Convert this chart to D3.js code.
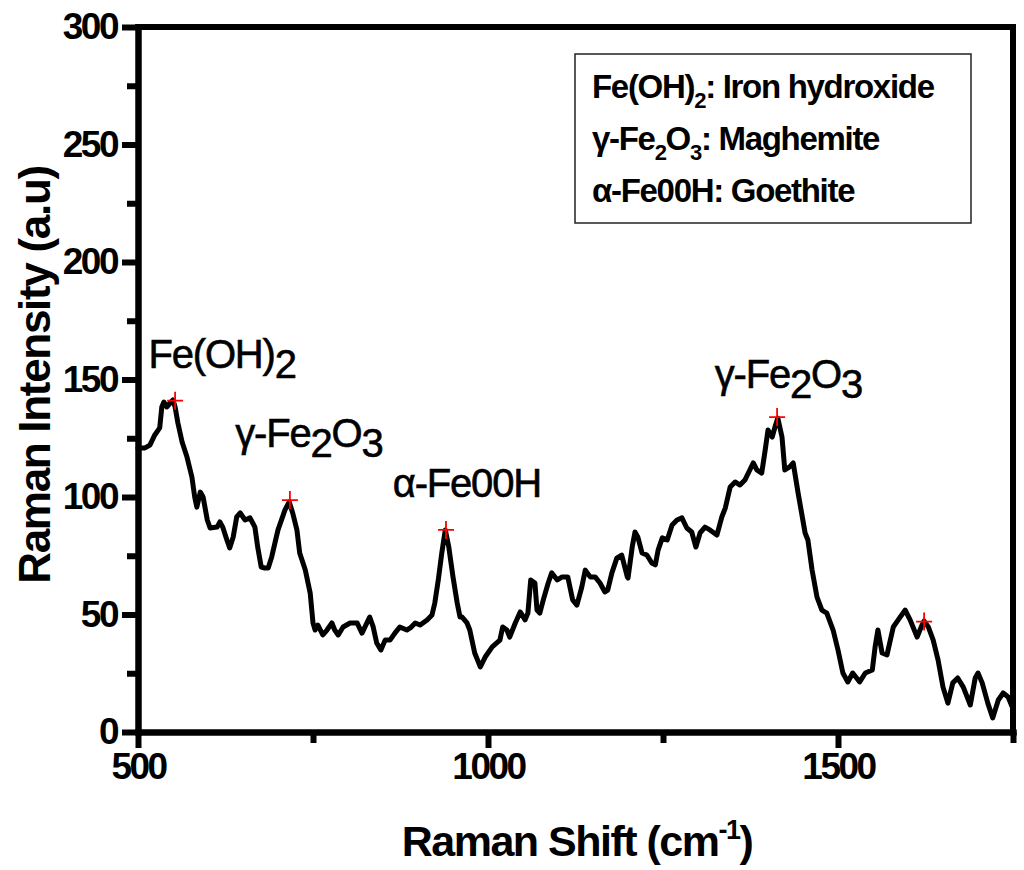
<!DOCTYPE html>
<html>
  <head>
    <meta charset="utf-8">
    <script src="https://d3js.org/d3.v7.min.js"></script>
    <title>Raman Spectrum</title>
    <style>
      body { margin: 0; background: #fff; }
      text { font-family: "Liberation Sans", Arial, sans-serif; fill: #000; }
    </style>
  </head>
  <body>
    <svg width="1024" height="870"></svg>
    <script>
      // Raman shift (cm-1) and intensity
      const shift = [500,510,517,524,531,534,537,541,546,550,553,557,563,570,577,581,584,589,593,599,
        603,613,617,621,627,631,636,641,646,653,660,667,671,676,681,686,691,700,710,716,
        721,727,731,739,746,750,753,757,764,770,777,781,786,793,803,813,820,827,831,836,
        841,847,853,860,867,874,884,889,896,903,913,920,924,929,934,939,944,950,956,960,
        963,970,974,981,989,996,1006,1017,1021,1027,1031,1039,1046,1053,1057,1061,1067,1070,1074,1079,
        1086,1091,1099,1106,1114,1121,1127,1134,1139,1146,1153,1160,1167,1171,1177,1184,1191,1199,1200,1206,
        1210,1214,1220,1227,1234,1239,1243,1249,1256,1263,1270,1277,1284,1291,1297,1303,1310,1317,1327,1334,
        1339,1346,1353,1360,1367,1374,1379,1384,1391,1396,1400,1406,1410,1414,1420,1424,1431,1436,1443,1449,
        1453,1457,1463,1470,1477,1484,1493,1500,1507,1514,1521,1531,1539,1549,1553,1557,1563,1570,1579,1586,
        1596,1603,1613,1620,1623,1629,1636,1643,1650,1657,1664,1671,1679,1689,1696,1700,1706,1714,1721,1729,
        1736,1743,1749];
      const intensity = [120.9,120.9,122.1,126.4,129.4,138.3,140.4,138.3,140.0,141.3,138.3,131.5,123.4,117.0,108.5,100.0,95.7,102.1,100.0,90.2,
        86.8,87.2,89.4,87.2,81.7,78.3,83.0,91.5,93.2,90.2,91.1,87.2,78.7,70.2,69.8,69.8,74.5,86.0,94.5,97.9,
        93.2,86.0,76.2,68.9,59.1,46.4,43.4,45.5,41.3,43.4,46.4,43.4,41.3,44.7,46.4,46.4,42.1,46.4,48.9,44.7,
        37.9,34.9,39.1,39.1,42.1,44.7,43.4,44.3,46.4,45.5,47.7,49.8,54.9,64.7,76.2,86.0,78.7,66.0,54.9,48.9,
        48.9,46.4,43.4,33.6,27.7,31.9,36.2,39.1,44.7,43.4,40.4,46.4,51.1,47.7,50.6,64.7,63.4,51.9,50.6,56.2,
        63.4,67.7,64.7,66.0,66.0,56.2,54.0,61.7,68.9,66.0,66.0,63.4,59.6,60.4,67.7,74.0,75.3,66.0,65.5,78.7,
        85.1,83.0,76.2,75.3,71.9,71.1,77.4,82.6,81.7,88.1,90.2,91.1,86.8,85.1,78.7,84.7,87.2,86.0,83.8,91.5,
        95.3,104.3,106.4,105.1,107.2,111.5,114.5,111.5,110.2,120.0,128.5,125.5,129.8,133.6,125.5,111.5,112.8,114.5,101.7,91.5,
        84.7,81.7,68.9,57.4,51.9,50.6,43.4,34.9,25.1,21.3,25.1,21.3,25.1,26.4,36.2,43.4,33.6,32.8,44.7,47.7,
        51.9,47.7,40.4,45.5,47.2,44.7,39.1,30.6,19.1,12.3,20.9,23.0,19.1,11.5,23.0,25.1,20.9,12.3,6.0,13.6,
        16.6,14.9,10.6];

      // Peak markers (red crosses)
      const peakShift = [553, 717, 940, 1413, 1623];
      const peakIntensity = [141, 98.7, 86, 134, 47];

      // Axis ticks
      const xMajor = [500, 1000, 1500];
      const xMinor = [750, 1250, 1750];
      const yMajor = [0, 50, 100, 150, 200, 250, 300];
      const yMinor = [25, 75, 125, 175, 225, 275];

      // Peak annotation labels: text parts (1 = subscript), position in data units
      const annotations = [
        { x: 515, y: 155, parts: [["Fe(OH)", 0], ["2", 1]] },
        { x: 639, y: 121.3, parts: [["\u03b3-Fe", 0], ["2", 1], ["O", 0], ["3", 1]] },
        { x: 864, y: 100, parts: [["\u03b1-Fe00H", 0]] },
        { x: 1324, y: 146.4, parts: [["\u03b3-Fe", 0], ["2", 1], ["O", 0], ["3", 1]] }
      ];

      // Legend lines
      const legendLines = [
        [["Fe(OH)", 0], ["2", 1], [": Iron hydroxide", 0]],
        [["\u03b3-Fe", 0], ["2", 1], ["O", 0], ["3", 1], [": Maghemite", 0]],
        [["\u03b1-Fe00H: Goethite", 0]]
      ];

      const data = shift.map((s, i) => ({ s: s, v: intensity[i] }));

      const svg = d3.select('svg');
      const margin = { left: 138, right: 1013, top: 27, bottom: 732 };

      const xScale = d3.scaleLinear().domain([500, 1750]).range([margin.left, margin.right]);
      const yScale = d3.scaleLinear().domain([0, 300]).range([margin.bottom, margin.top]);

      // writes parts into a text element, subscripts shifted down by `drop`
      function richText(t, parts, drop, subSize) {
        let low = false;
        parts.forEach(p => {
          const sub = p[1] === 1;
          const span = t.append('tspan').text(p[0]);
          if (sub && !low) span.attr('dy', drop);
          if (!sub && low) span.attr('dy', -drop);
          if (sub && subSize) span.attr('font-size', subSize);
          low = sub;
        });
      }

      // Frame top and right
      svg.append('path')
        .attr('d', `M${margin.left},${margin.top}H${margin.right}V${margin.bottom}`)
        .attr('fill', 'none')
        .attr('stroke', '#000')
        .attr('stroke-width', 6)
        .attr('stroke-linecap', 'square');

      // Minor ticks
      const xMinorAxis = svg.append('g')
        .attr('transform', `translate(0,${margin.bottom})`)
        .call(d3.axisBottom(xScale).tickValues(xMinor).tickSize(11).tickSizeOuter(0).tickFormat(''));
      const yMinorAxis = svg.append('g')
        .attr('transform', `translate(${margin.left},0)`)
        .call(d3.axisLeft(yScale).tickValues(yMinor).tickSize(11).tickSizeOuter(0).tickFormat(''));

      // Major axes
      const xAxis = svg.append('g')
        .attr('transform', `translate(0,${margin.bottom})`)
        .call(d3.axisBottom(xScale).tickValues(xMajor).tickSize(16).tickSizeOuter(0)
          .tickPadding(5).tickFormat(d3.format('d')));
      const yAxis = svg.append('g')
        .attr('transform', `translate(${margin.left},0)`)
        .call(d3.axisLeft(yScale).tickValues(yMajor).tickSize(16).tickSizeOuter(0)
          .tickPadding(5).tickFormat(d3.format('d')));

      [xMinorAxis, yMinorAxis, xAxis, yAxis].forEach(g => {
        g.selectAll('.domain').attr('stroke-width', 6).attr('stroke-linecap', 'square');
        g.selectAll('.tick line').attr('stroke-width', 6);
      });
      [xAxis, yAxis].forEach(g => {
        g.selectAll('.tick text')
          .attr('font-family', '"Liberation Sans", Arial, sans-serif')
          .attr('font-size', 37)
          .attr('font-weight', 'bold')
          .attr('letter-spacing', -2.5);
      });

      // Spectrum
      const line = d3.line().x(d => xScale(d.s)).y(d => yScale(d.v));
      svg.append('path')
        .datum(data)
        .attr('d', line)
        .attr('fill', 'none')
        .attr('stroke', '#000')
        .attr('stroke-width', 5)
        .attr('stroke-linejoin', 'round')
        .attr('stroke-linecap', 'round');

      // Peak crosses
      svg.selectAll('.peak').data(peakShift).enter().append('path')
        .attr('class', 'peak')
        .attr('d', (d, i) => {
          const cx = xScale(d), cy = yScale(peakIntensity[i]);
          return `M${cx - 8},${cy}H${cx + 8}M${cx},${cy - 9}V${cy + 9}`;
        })
        .attr('stroke', '#ff0000')
        .attr('stroke-width', 1.8);

      // Peak labels
      annotations.forEach(a => {
        const t = svg.append('text')
          .attr('x', xScale(a.x))
          .attr('y', yScale(a.y))
          .attr('font-size', 40)
          .attr('letter-spacing', -1.2)
          .attr('stroke', '#000')
          .attr('stroke-width', 0.6);
        richText(t, a.parts, 10, null);
      });

      // Legend
      const legend = svg.append('g');
      legend.append('rect')
        .attr('x', 575).attr('y', 54)
        .attr('width', 396).attr('height', 169)
        .attr('fill', '#fff')
        .attr('stroke', '#222')
        .attr('stroke-width', 1.5);
      legendLines.forEach((parts, i) => {
        const t = legend.append('text')
          .attr('x', 592)
          .attr('y', 98 + i * 52)
          .attr('font-size', 33)
          .attr('font-weight', 'bold')
          .attr('letter-spacing', -1.3);
        richText(t, parts, 10, 22);
      });

      // Axis titles
      const xTitle = svg.append('text')
        .attr('x', 577)
        .attr('y', 856)
        .attr('text-anchor', 'middle')
        .attr('font-size', 43)
        .attr('font-weight', 'bold')
        .attr('letter-spacing', -1.5);
      xTitle.append('tspan').text('Raman Shift (cm');
      xTitle.append('tspan').attr('dy', -17).attr('font-size', 27).text('-1');
      xTitle.append('tspan').attr('dy', 17).text(')');

      svg.append('text')
        .attr('transform', 'translate(50,375) rotate(-90)')
        .attr('text-anchor', 'middle')
        .attr('font-size', 44)
        .attr('font-weight', 'bold')
        .attr('letter-spacing', -1.3)
        .text('Raman Intensity (a.u)');
    </script>
  </body>
</html>
